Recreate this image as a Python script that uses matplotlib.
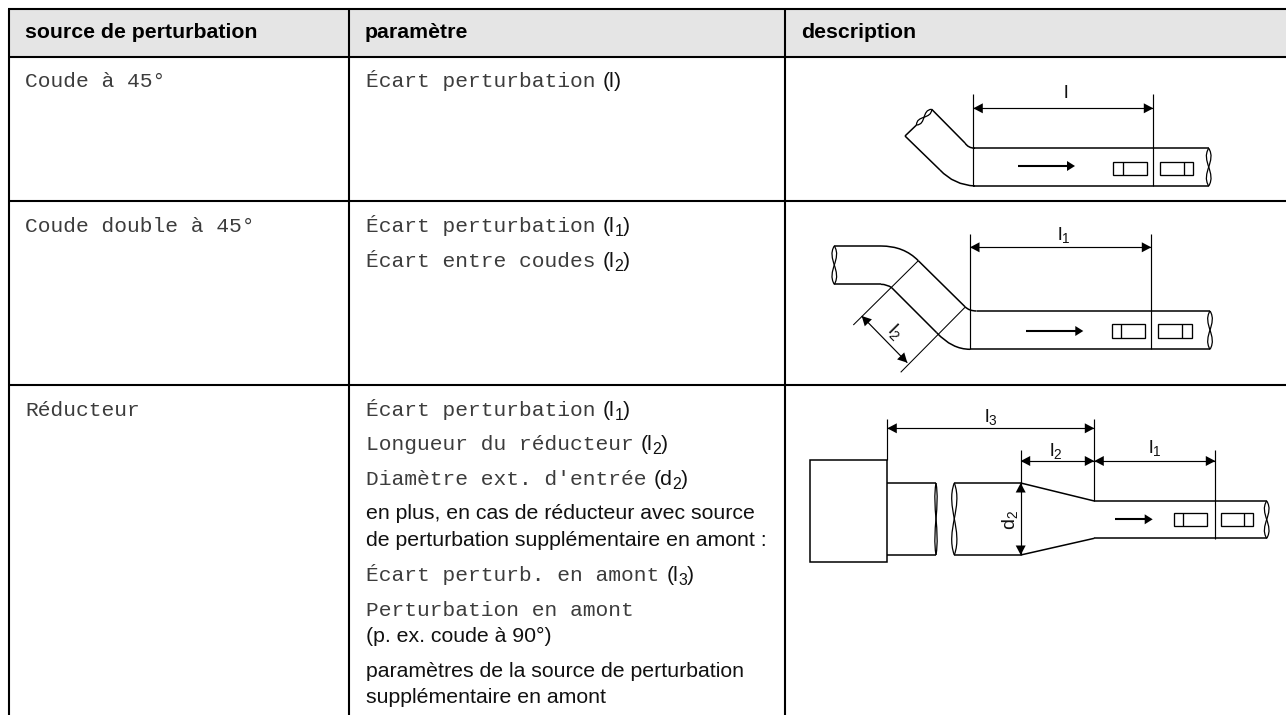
import numpy as np
import matplotlib
matplotlib.use('Agg')
import matplotlib.pyplot as plt
from matplotlib.path import Path
from matplotlib.patches import PathPatch, Polygon, Rectangle

# table content
headers = ['source de perturbation', 'paramètre', 'description']
sources = ['Coude à 45°', 'Coude double à 45°', 'Réducteur']

# (text, symbol, subscript) for the lines of the parametre column
param_lines = [
    ('Écart perturbation', 'l', ''),
    ('Écart perturbation', 'l', '1'),
    ('Écart entre coudes', 'l', '2'),
    ('Écart perturbation', 'l', '1'),
    ('Longueur du réducteur', 'l', '2'),
    ("Diamètre ext. d'entrée", 'd', '2'),
    ('Écart perturb. en amont', 'l', '3'),
    ('Perturbation en amont', '', ''),
]
plain_lines = [
    'en plus, en cas de réducteur avec source',
    'de perturbation supplémentaire en amont :',
    '(p. ex. coude à 90°)',
    'paramètres de la source de perturbation',
    'supplémentaire en amont',
]

# table grid, in pixels (the table runs off the right edge)
col_x = [9, 349, 785]
right_edge = 1286
row_y = [9, 57, 201, 385]
PAD = 17
header_base = 38
source_base = [87, 232, 416]
param_base = [87, 232, 267, 416, 450, 485, 581, 616]
plain_base = [519, 546, 642, 677, 703]

MONO = 'Liberation Mono'
SANS = 'Liberation Sans'
FS = 15.3
INK = '#111111'
MONO_INK = '#3c3c3c'
PIPE = 1.1

plt.rcParams['mathtext.fontset'] = 'custom'
plt.rcParams['mathtext.rm'] = SANS

fig = plt.figure(figsize=(12.86, 7.15), dpi=100)
ax = fig.add_axes([0, 0, 1, 1])
ax.set_xlim(0, 1286)
ax.set_ylim(715, 0)
ax.axis('off')


def line(xs, ys, lw=0.85):
    ax.plot(xs, ys, color='black', lw=lw, solid_capstyle='butt', solid_joinstyle='miter')


def curve(p0, *rest, lw=PIPE):
    # quadratic if one control point + end, cubic if two
    pts = [p0] + list(rest)
    if len(rest) == 2:
        codes = [Path.MOVETO, Path.CURVE3, Path.CURVE3]
    else:
        codes = [Path.MOVETO, Path.CURVE4, Path.CURVE4, Path.CURVE4]
    ax.add_patch(PathPatch(Path(pts, codes), fill=False, lw=lw, ec='black'))


def wave(p0, p1, off=8.0):
    # pipe break, two S curves crossing in the middle
    p0, p1 = np.array(p0, float), np.array(p1, float)
    d = p1 - p0
    n = np.array([-d[1], d[0]]) / np.hypot(*d)
    for s in (1, -1):
        curve(p0, p0 + d * 0.33 + n * off * s, p0 + d * 0.66 - n * off * s, p1, lw=0.9)


def head(tip, angle, size=9.5, half=5.0):
    a = np.radians(angle)
    u = np.array([np.cos(a), np.sin(a)])
    n = np.array([-u[1], u[0]])
    tip = np.array(tip, float)
    base = tip - u * size
    ax.add_patch(Polygon([tip, base + n * half, base - n * half], fc='black', ec='none'))


def dim(p0, p1):
    # dimension line with a head at each end
    p0, p1 = np.array(p0, float), np.array(p1, float)
    line([p0[0], p1[0]], [p0[1], p1[1]], lw=0.85)
    ang = np.degrees(np.arctan2(*(p1 - p0)[::-1]))
    head(p1, ang)
    head(p0, ang + 180)


def label(x, y, sym, sub='', rot=0):
    t = '$\\mathregular{%s_{%s}}$' % (sym, sub) if sub else sym
    ax.text(x, y, t, fontsize=14, family=SANS, ha='center', va='center',
            rotation=rot, rotation_mode='anchor', color=INK)


def sensors(x0, x1, y0, y1, mark):
    ax.add_patch(Rectangle((x0, y0), x1 - x0, y1 - y0, fill=False, ec='black', lw=0.95))
    line([mark, mark], [y0, y1], lw=0.95)


def flow(x0, x1, y):
    line([x0, x1 - 7], [y, y], lw=1.5)
    head((x1, y), 0, size=8, half=5)


def run_text(x, y, txt, font, size=FS, color=INK, weight='normal'):
    t = ax.text(x, y, txt, family=font, fontsize=size, color=color, weight=weight,
                ha='left', va='baseline')
    return t.get_window_extent(renderer).x1


renderer = fig.canvas.get_renderer()

# header fill and grid
ax.add_patch(Rectangle((col_x[0], row_y[0]), right_edge - col_x[0], row_y[1] - row_y[0],
                       fc='#e5e5e5', ec='none'))
for yy in row_y:
    line([col_x[0] - 1, right_edge], [yy, yy], lw=1.5)
for xx in col_x:
    line([xx, xx], [row_y[0], 715], lw=1.5)

# header text
for i, h in enumerate(headers):
    run_text(col_x[i] + PAD - 1, header_base, h, SANS, color='black', weight='bold')

for s, b in zip(sources, source_base):
    run_text(col_x[0] + PAD - 1, b, s, MONO, color=MONO_INK)

for (txt, sym, sub), b in zip(param_lines, param_base):
    end = run_text(col_x[1] + PAD, b, txt, MONO, color=MONO_INK)
    if sym:
        end = run_text(end + 7, b, '(' + sym, SANS)
        if sub:
            end = run_text(end, b + 4, sub, SANS, size=11.5)
        run_text(end, b, ')', SANS)

for txt, b in zip(plain_lines, plain_base):
    run_text(col_x[1] + PAD, b, txt, SANS)

# --- coude a 45
line([973.3, 1208.7], [148.3, 148.3], lw=PIPE)
line([973.3, 1208.7], [186, 186], lw=PIPE)
line([973.3, 973.3], [94, 186])
line([1153.3, 1153.3], [94, 186])
dim((973.3, 108.3), (1153.3, 108.3))
label(1066, 94, 'l')
sensors(1113.3, 1146.7, 161.7, 175, 1122.7)
sensors(1160, 1193.3, 161.7, 175, 1184)
flow(1018, 1075, 166)
wave((1208.7, 148.3), (1208.7, 186))
line([931.7, 965], [109.3, 143], lw=PIPE)
curve((965, 143), (968, 148), (975, 148.3))
line([905, 940], [136, 170], lw=PIPE)
curve((940, 170), (954, 185), (975, 186))
line([905, 916.5], [136, 125], lw=PIPE)
wave((916.5, 125), (931.7, 109.3), off=7)

# --- coude double
line([976.7, 1210], [311, 311], lw=PIPE)
line([970, 1210], [349.3, 349.3], lw=PIPE)
line([970, 970], [234, 349.3])
line([1151.3, 1151.3], [234, 349.3])
dim((970, 247.3), (1151.3, 247.3))
label(1064, 235, 'l', '1')
sensors(1112, 1145.3, 324.3, 337.7, 1121.3)
sensors(1158.3, 1191.7, 324.3, 337.7, 1182.3)
flow(1026, 1083.3, 331)
wave((1210, 311), (1210, 349.3))
wave((834.3, 246), (834.3, 284.3))
line([834.3, 881], [246, 246], lw=PIPE)
line([834.3, 881], [284.3, 284.3], lw=PIPE)
curve((881, 246), (904, 246), (918.3, 260.7))
line([918.3, 965], [260.7, 306.7], lw=PIPE)
curve((965, 306.7), (969, 311), (976.7, 311))
curve((881, 284.3), (887, 284.3), (891.7, 287.7))
line([891.7, 936.7], [287.7, 332.7], lw=PIPE)
curve((936.7, 332.7), (952, 349.3), (970, 349.3))
line([918.3, 853.3], [260.7, 325], lw=0.75)
line([965, 900.7], [307.3, 372.3], lw=0.75)
dim((861.7, 316), (907.3, 362.7))
label(895, 331.7, 'l', '2', rot=-45)

# --- reducteur
ax.add_patch(Rectangle((810, 460.3), 77.3, 102, fill=False, ec='black', lw=PIPE))
line([887.3, 936], [483, 483], lw=PIPE)
line([887.3, 936], [555, 555], lw=PIPE)
wave((936, 483), (936, 555), off=4)
wave((954.3, 483), (954.3, 555), off=9)
line([954.3, 1020.7], [483, 483], lw=PIPE)
line([954.3, 1020.7], [555, 555], lw=PIPE)
line([1020.7, 1094.3], [483, 501], lw=PIPE)
line([1020.7, 1094.3], [555, 538.3], lw=PIPE)
line([1094.3, 1266.7], [501, 501], lw=PIPE)
line([1094.3, 1266.7], [538.3, 538.3], lw=PIPE)
wave((1266.7, 501), (1266.7, 538.3))
line([887.3, 887.3], [419, 460.3])
line([1094.3, 1094.3], [419, 501])
line([1020.7, 1020.7], [450, 483])
line([1215.3, 1215.3], [450, 539.3])
dim((887.3, 428.3), (1094.3, 428.3))
dim((1020.7, 461), (1094.3, 461))
dim((1094.3, 461), (1215.3, 461))
dim((1020.7, 483), (1020.7, 555))
label(990.7, 416.7, 'l', '3')
label(1055.7, 450.7, 'l', '2')
label(1154.7, 448.3, 'l', '1')
label(1010, 520, 'd', '2', rot=90)
sensors(1174, 1207.3, 512.7, 526, 1183.3)
sensors(1220.7, 1253.3, 512.7, 526, 1244)
flow(1115, 1152.7, 519.3)

fig.savefig('out.png', dpi=100)
